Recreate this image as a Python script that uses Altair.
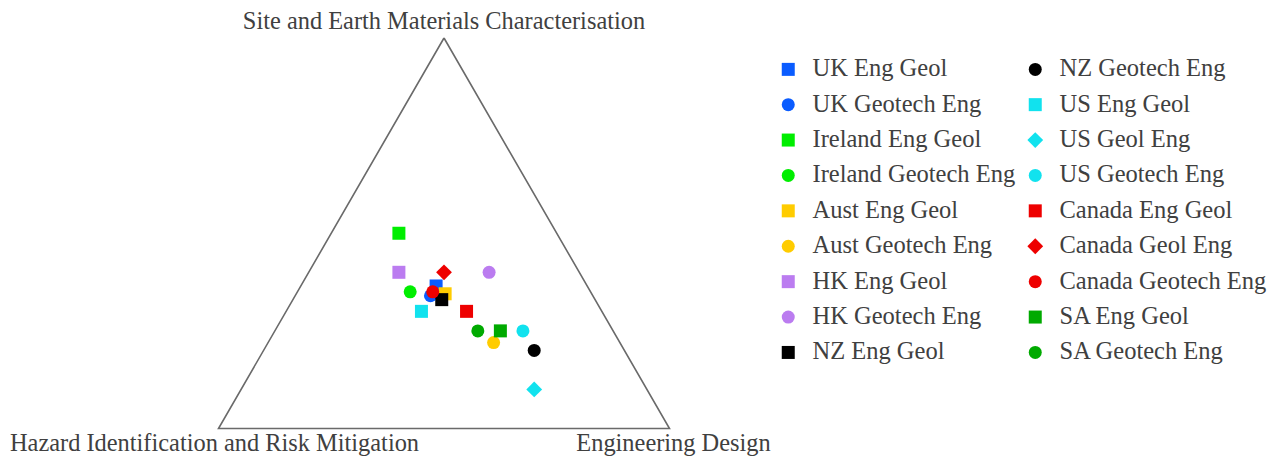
import altair as alt
import pandas as pd

# ---- data (ternary compositions: Site / Hazard / Design) ----
series = [
    "UK Eng Geol", "UK Geotech Eng", "Ireland Eng Geol", "Ireland Geotech Eng",
    "Aust Eng Geol", "Aust Geotech Eng", "HK Eng Geol", "HK Geotech Eng",
    "NZ Eng Geol", "NZ Geotech Eng", "US Eng Geol", "US Geol Eng",
    "US Geotech Eng", "Canada Eng Geol", "Canada Geol Eng", "Canada Geotech Eng",
    "SA Eng Geol", "SA Geotech Eng",
]
site = [0.365, 0.34, 0.50, 0.35, 0.345, 0.22, 0.40, 0.40, 0.33, 0.20, 0.30, 0.10,
        0.25, 0.30, 0.40, 0.35, 0.25, 0.25]
hazard = [0.335, 0.36, 0.35, 0.40, 0.325, 0.28, 0.40, 0.20, 0.34, 0.20, 0.40, 0.25,
          0.20, 0.30, 0.30, 0.35, 0.25, 0.30]
design = [0.30, 0.30, 0.15, 0.25, 0.33, 0.50, 0.20, 0.40, 0.33, 0.60, 0.30, 0.65,
          0.55, 0.40, 0.30, 0.30, 0.50, 0.45]

colors = ["#0a5cff", "#0a5cff", "#00ee00", "#00ee00", "#ffcc00", "#ffcc00",
          "#bb7cf0", "#bb7cf0", "#000000", "#000000", "#11e2ee", "#11e2ee",
          "#11e2ee", "#ee0000", "#ee0000", "#ee0000", "#00aa00", "#00aa00"]
shapes = ["square", "circle", "square", "circle", "square", "circle",
          "square", "circle", "square", "circle", "square", "diamond",
          "circle", "square", "diamond", "circle", "square", "circle"]
marker_sizes = [250 if s == "diamond" else 169 for s in shapes]

axis_labels = ["Site and Earth Materials Characterisation",
               "Hazard Identification and Risk Mitigation",
               "Engineering Design"]
corner_site = [1, 0, 0]
corner_hazard = [0, 1, 0]
corner_design = [0, 0, 1]

FONT = "Liberation Serif"
TXT = "#404040"

pts = pd.DataFrame({"series": series, "site": site, "hazard": hazard, "design": design,
                    "ord": list(range(len(series)))})
tri = pd.DataFrame({"site": corner_site + corner_site[:1],
                    "hazard": corner_hazard + corner_hazard[:1],
                    "design": corner_design + corner_design[:1],
                    "k": [0, 1, 2, 3]})
lab = pd.DataFrame({"label": axis_labels, "site": corner_site,
                    "hazard": corner_hazard, "design": corner_design})

xs = alt.Scale(domain=[0, 1], range=[210.5, 661.5])
ys = alt.Scale(domain=[0, 1], range=[420.5, 30])


def tern(ch):
    return ch.transform_calculate(
        tx="(datum.design + datum.site / 2) / (datum.site + datum.hazard + datum.design)",
        ty="datum.site / (datum.site + datum.hazard + datum.design)",
    )


X = alt.X("tx:Q", scale=xs, axis=None)
Y = alt.Y("ty:Q", scale=ys, axis=None)

triangle = tern(alt.Chart(tri)).mark_line(color="#6a6a6a", strokeWidth=1.6).encode(
    x=X, y=Y, order="k:Q")


def label_layer(i, dx, dy):
    return tern(alt.Chart(lab.iloc[[i]])).mark_text(
        font=FONT, fontSize=24.4, color=TXT, align="center", baseline="alphabetic",
        dx=dx, dy=dy
    ).encode(x=X, y=Y, text="label:N")


top_label = label_layer(0, 0, -9)
left_label = label_layer(1, -4, 22)
right_label = label_layer(2, 4, 22)

legend = alt.Legend(
    title=None, orient="none", legendX=768, legendY=49, columns=2, direction="vertical",
    labelFont=FONT, labelFontSize=24.5, labelColor=TXT, labelOffset=12,
    symbolStrokeWidth=0, symbolOpacity=1, rowPadding=10.4,
    columnPadding=7, padding=0, labelLimit=400,
)

points = tern(alt.Chart(pts)).mark_point(filled=True, opacity=1, strokeWidth=0).encode(
    x=X, y=Y,
    color=alt.Color("series:N", scale=alt.Scale(domain=series, range=colors), legend=legend),
    shape=alt.Shape("series:N", scale=alt.Scale(domain=series, range=shapes), legend=legend),
    size=alt.Size("series:N", scale=alt.Scale(type="ordinal", domain=series, range=marker_sizes),
                  legend=legend),
    order="ord:Q",
)

chart = alt.layer(triangle, top_label, left_label, right_label, points).properties(
    width=1260, height=451, padding=0, autosize=alt.AutoSizeParams(type="none")
).configure_view(stroke=None)

chart.save("out.html", embed_options={"renderer": "svg", "actions": False})
